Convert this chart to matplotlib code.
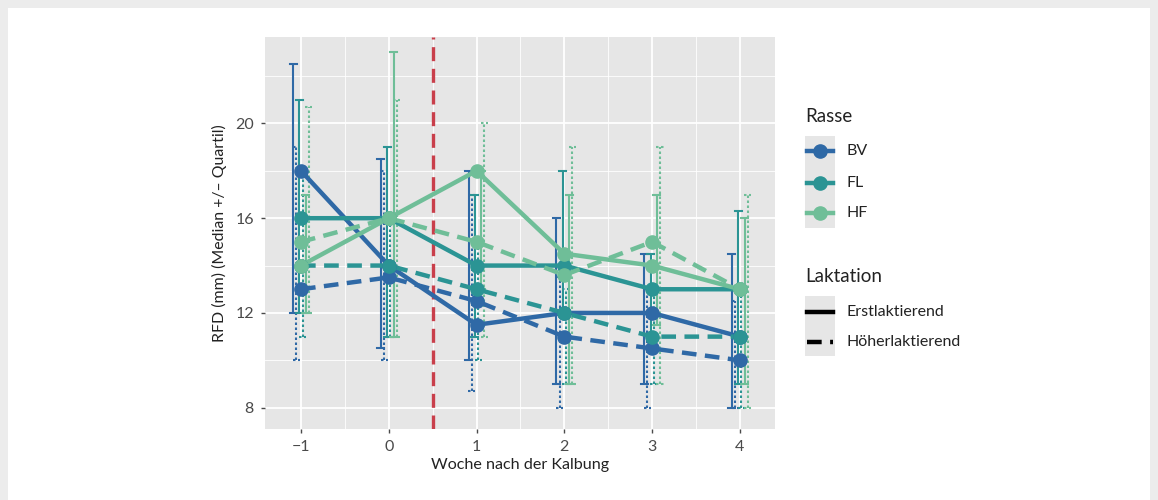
import matplotlib
matplotlib.use("Agg")
import matplotlib.pyplot as plt
from matplotlib.lines import Line2D
from matplotlib.patches import Rectangle

plt.rcParams['font.family'] = ['Lato', 'DejaVu Sans']

# ---- data -------------------------------------------------------------
weeks = [-1, 0, 1, 2, 3, 4]
week_labels = ["\u22121", "0", "1", "2", "3", "4"]
y_ticks = [8, 12, 16, 20]

breeds = ["BV", "FL", "HF"]
lactations = ["Erstlaktierend", "H\u00f6herlaktierend"]

# median, lower quartile, upper quartile per week
bv_erst_median = [18, 14, 11.5, 12, 12, 11]
bv_erst_low = [12, 10.5, 10, 9, 9, 8]
bv_erst_high = [22.5, 18.5, 18, 16, 14.5, 14.5]

bv_hoeher_median = [13, 13.5, 12.5, 11, 10.5, 10]
bv_hoeher_low = [10, 10, 8.7, 8, 8, 8]
bv_hoeher_high = [19, 18, 17, 13.5, 13, 12.5]

fl_erst_median = [16, 16, 14, 14, 13, 13]
fl_erst_low = [12, 11, 11, 12, 11, 9]
fl_erst_high = [21, 19, 17, 18, 14.5, 16.3]

fl_hoeher_median = [14, 14, 13, 12, 11, 11]
fl_hoeher_low = [11, 11, 10, 9, 9, 8]
fl_hoeher_high = [18, 16, 15, 13, 13, 13]

hf_erst_median = [14, 16, 18, 14.5, 14, 13]
hf_erst_low = [12, 11, 13, 9, 11.5, 9]
hf_erst_high = [17, 23, 18, 17, 17, 16]

hf_hoeher_median = [15, 16, 15, 13.6, 15, 13]
hf_hoeher_low = [12, 11, 11, 9, 9, 8]
hf_hoeher_high = [20.7, 21, 20, 19, 19, 17]

calving_week = 0.5

# ---- styles -----------------------------------------------------------
breed_colors = {"BV": "#2f69a6", "FL": "#2b9494", "HF": "#6fbe98"}
line_styles = {"Erstlaktierend": "-", "H\u00f6herlaktierend": (0, (3.3, 1.9))}
bar_styles = {"Erstlaktierend": "-", "H\u00f6herlaktierend": (0, (1.2, 1.2))}

series = [
    ("BV", "Erstlaktierend", bv_erst_median, bv_erst_low, bv_erst_high),
    ("BV", "H\u00f6herlaktierend", bv_hoeher_median, bv_hoeher_low, bv_hoeher_high),
    ("FL", "Erstlaktierend", fl_erst_median, fl_erst_low, fl_erst_high),
    ("FL", "H\u00f6herlaktierend", fl_hoeher_median, fl_hoeher_low, fl_hoeher_high),
    ("HF", "Erstlaktierend", hf_erst_median, hf_erst_low, hf_erst_high),
    ("HF", "H\u00f6herlaktierend", hf_hoeher_median, hf_hoeher_low, hf_hoeher_high),
]
dodge = [-0.09, -0.054, -0.018, 0.018, 0.054, 0.09]

W, H = 1158, 500
fig = plt.figure(figsize=(W / 100, H / 100), dpi=100)
fig.patch.set_facecolor("white")

# panel placement (pixels)
px_left, px_right, px_top, px_bottom = 265, 775, 37, 429
ax = fig.add_axes([px_left / W, 1 - px_bottom / H,
                   (px_right - px_left) / W, (px_bottom - px_top) / H])
ax.set_facecolor("#e6e6e6")
for s in ax.spines.values():
    s.set_visible(False)

ax.set_xlim(-1.41, 4.40)
ax.set_ylim(7.1, 23.65)

# grid: major + minor, white
ax.set_xticks(weeks)
ax.set_xticklabels(week_labels)
ax.set_xticks([w + 0.5 for w in weeks[:-1]], minor=True)
ax.set_yticks(y_ticks)
ax.set_yticks([10, 14, 18, 22], minor=True)
ax.grid(which="major", color="white", linewidth=1.3)
ax.grid(which="minor", color="white", linewidth=0.6)
ax.set_axisbelow(True)
ax.tick_params(which="major", length=3, width=1, color="#4a4a4a",
               labelcolor="#4a4a4a", labelsize=11.5, pad=5)
ax.tick_params(which="minor", length=0)

# quartile bars (dodged)
for (breed, lac, med, lo, hi), off in zip(series, dodge):
    xs = [w + off for w in weeks]
    col = breed_colors[breed]
    for x, l, h in zip(xs, lo, hi):
        ax.plot([x, x], [l, h], color=col, lw=1.5, linestyle=bar_styles[lac],
                zorder=2, solid_capstyle="butt")
        for yy in (l, h):
            ax.plot([x - 0.04, x + 0.04], [yy, yy], color=col, lw=1.5,
                    linestyle=bar_styles[lac], zorder=2)

# calving marker
ax.axvline(calving_week, color="#c93f4b", lw=2.4, linestyle=(0, (4.2, 2.3)),
           zorder=3)

# median lines and points
for breed, lac, med, lo, hi in series:
    col = breed_colors[breed]
    ax.plot(weeks, med, color=col, lw=3.2, linestyle=line_styles[lac],
            zorder=4, dash_capstyle="butt")
    ax.plot(weeks, med, linestyle="none", marker="o", markersize=9.5,
            color=col, zorder=5)

ax.set_xlabel("Woche nach der Kalbung", fontsize=11.6, color="#222222",
              labelpad=3)
ax.set_ylabel("RFD (mm) (Median +/\u2013 Quartil)", fontsize=11.4,
              color="#222222", labelpad=6)

# ---- overlay in pixel coordinates: legend and frame -------------------
ov = fig.add_axes([0, 0, 1, 1], zorder=10)
ov.set_xlim(0, W)
ov.set_ylim(H, 0)
ov.axis("off")
ov.patch.set_alpha(0)

frame = "#ececec"
ov.add_patch(Rectangle((0, 0), W, 8, color=frame, lw=0))
ov.add_patch(Rectangle((0, 0), 8, H, color=frame, lw=0))
ov.add_patch(Rectangle((W - 8, 0), 8, H, color=frame, lw=0))

ov.text(805, 116, "Rasse", fontsize=13.5, color="#222222", va="center",
        ha="left")
key_x0, key_x1 = 805, 835
rasse_y = [151, 183, 213]
ov.add_patch(Rectangle((key_x0, 136), key_x1 - key_x0, 92, color="#e6e6e6",
                       lw=0))
for breed, yy in zip(breeds, rasse_y):
    ov.add_line(Line2D([key_x0 + 2, key_x1 - 2], [yy, yy], color=breed_colors[breed],
                       lw=3.2))
    ov.add_line(Line2D([(key_x0 + key_x1) / 2], [yy], marker="o", markersize=9.5,
                       color=breed_colors[breed], linestyle="none"))
    ov.text(846, yy, breed, fontsize=11.5, color="#222222", va="center",
            ha="left")

ov.text(805, 277, "Laktation", fontsize=13.5, color="#222222", va="center",
        ha="left")
lak_y = [312, 342]
ov.add_patch(Rectangle((key_x0, 296), key_x1 - key_x0, 60, color="#e6e6e6",
                       lw=0))
for lac, yy in zip(lactations, lak_y):
    ov.add_line(Line2D([key_x0 + 2, key_x1 - 2], [yy, yy], color="black",
                       lw=3.2, linestyle=line_styles[lac],
                       dash_capstyle="butt"))
    ov.text(846, yy, lac, fontsize=11.5, color="#222222", va="center",
            ha="left")

fig.savefig("out.png", dpi=100)
